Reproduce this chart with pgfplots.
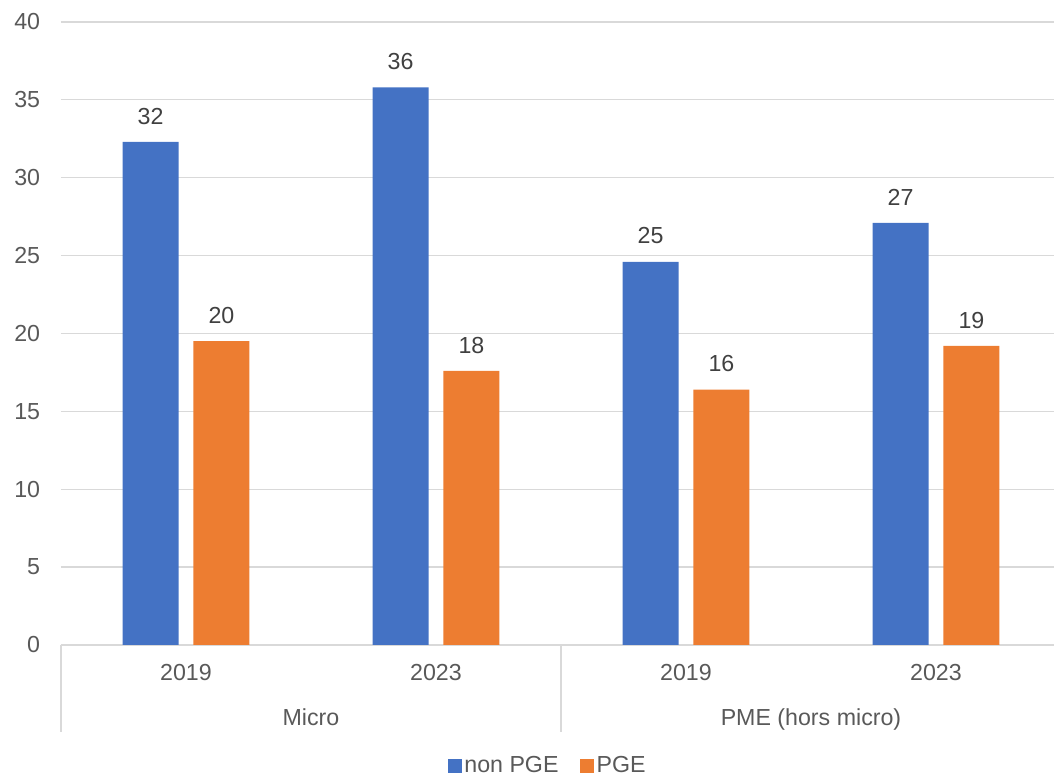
\documentclass[border=0pt]{standalone}
\usepackage{fontspec}
\setmainfont{Liberation Sans}
\usepackage{pgfplots}
\pgfplotsset{compat=1.18}
\definecolor{cblue}{HTML}{4472C4}
\definecolor{corange}{HTML}{ED7D31}
\definecolor{cgrid}{HTML}{D9D9D9}
\definecolor{ctick}{HTML}{595959}
\definecolor{clab}{HTML}{404040}
\newcommand{\fs}{\fontsize{17.4}{21}\selectfont}
\begin{document}
\begin{tikzpicture}
\begin{axis}[
  scale only axis,
  width=744.75pt, height=467.25pt,
  xmin=-0.5, xmax=3.472,
  ymin=0, ymax=40,
  ytick={0,5,...,40},
  xtick={0,1,2,3},
  xticklabels={2019,2023,2019,2023},
  major tick length=0pt,
  axis line style={draw=none},
  ymajorgrids,
  grid style={cgrid, line width=1pt},
  /pgf/number format/assume math mode=true,
  tick label style={font=\fs, text=ctick},
  xticklabel style={inner sep=0pt, yshift=-14pt},
  yticklabel style={inner sep=0pt, xshift=-15.5pt},
  clip=false,
  ybar, bar width=42pt,
  nodes near coords={\pgfmathprintnumber[fixed,precision=0]{\pgfplotspointmeta}},
  nodes near coords style={font=\fs, text=clab, anchor=south, inner sep=0pt, yshift=13pt},
  legend style={at={(0.4904,-0.194)}, anchor=center, draw=none, font=\fs, text=ctick,
    legend columns=-1, inner sep=0pt,
    /tikz/every even column/.append style={column sep=14pt}},
  legend image code/.code={\fill[#1] (0pt,-5.25pt) rectangle (10.5pt,5.25pt);},
]
\addplot[fill=cblue, draw=none, bar shift=-26.6pt] coordinates {(0,32.3) (1,35.8) (2,24.6) (3,27.1)};
\addlegendentry{non PGE}
\addplot[fill=corange, draw=none, bar shift=26.6pt] coordinates {(0,19.5) (1,17.6) (2,16.4) (3,19.2)};
\addlegendentry{PGE}
\draw[cgrid, line width=1.1pt] (axis cs:-0.5,0) -- ([yshift=-65.25pt]axis cs:-0.5,0);
\draw[cgrid, line width=1.1pt] (axis cs:1.5,0) -- ([yshift=-65.25pt]axis cs:1.5,0);
\node[font=\fs, text=ctick, anchor=base, yshift=-60.4pt] at (axis cs:0.5,0) {Micro};
\node[font=\fs, text=ctick, anchor=base, yshift=-60.4pt] at (axis cs:2.5,0) {PME (hors micro)};
\coordinate (bl) at (axis cs:-0.744,-8.41);
\coordinate (tr) at (axis cs:3.472,41.41);
\end{axis}
\pgfresetboundingbox
\path[use as bounding box] (bl) rectangle (tr);
\end{tikzpicture}
\end{document}
